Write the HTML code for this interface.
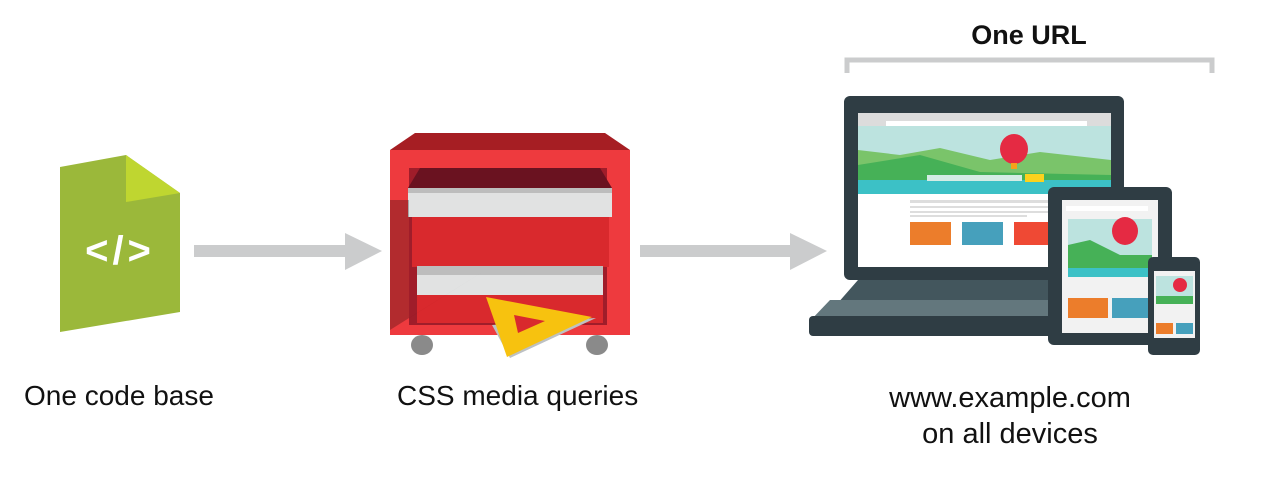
<!DOCTYPE html>
<html><head><style>
body{margin:0;background:#fff;width:1263px;height:480px;overflow:hidden;position:relative;font-family:"Liberation Sans",sans-serif;}
.t{position:absolute;font-size:28px;color:#111;white-space:nowrap;}
</style></head><body>
<svg width="1263" height="480" style="position:absolute;left:0;top:0">
<polygon points="60,167 126,155 180,193 180,312 60,332" fill="#9bb83a"/>
<polygon points="126,155 180,193 126,202" fill="#bfd630"/>
<text x="120" y="264" font-family="Liberation Sans" font-weight="bold" font-size="40" letter-spacing="4" fill="#fff" text-anchor="middle">&lt;/&gt;</text>
<rect x="194" y="245" width="152" height="12" fill="#cbcccd"/>
<polygon points="345,233 382,251 345,270" fill="#cbcccd"/>
<rect x="640" y="245" width="152" height="12" fill="#cbcccd"/>
<polygon points="790,233 827,251 790,270" fill="#cbcccd"/>
<polygon points="415,133 605,133 630,150 390,150" fill="#a61e23"/>
<rect x="390" y="150" width="240" height="185" fill="#ee3a3e"/>
<rect x="409" y="168" width="198" height="157" fill="#a01d2a"/>
<polygon points="420,168 600,168 612,188 408,188" fill="#6a1220"/>
<rect x="412" y="217" width="197" height="50" fill="#d9292d"/>
<rect x="408" y="188" width="204" height="29" fill="#e1e2e2"/>
<rect x="408" y="188" width="204" height="5" fill="#bdbdbd"/>
<rect x="417" y="295" width="186" height="28" fill="#d9292d"/>
<rect x="417" y="266" width="186" height="29" fill="#e1e2e2"/>
<rect x="417" y="266" width="186" height="9" fill="#bdbdbd"/>
<polygon points="390,200 409,200 409,318 492,266 390,330" fill="#000" opacity="0.25"/>
<ellipse cx="422" cy="345" rx="11" ry="10" fill="#8a8a8a"/>
<ellipse cx="597" cy="345" rx="11" ry="10" fill="#8a8a8a"/>
<polygon points="492,325 596,318 510,358" fill="#bdc1c3"/>
<polygon points="486,297 592,317 507,357" fill="#f7c20f"/>
<polygon points="514,315 545,321 518,333" fill="#d9292d"/>
<rect x="844" y="96" width="280" height="184" rx="6" fill="#2f3d44"/>
<rect x="858" y="113" width="253" height="154" fill="#fff"/>
<rect x="858" y="113" width="253" height="13" fill="#dcdcdc"/>
<rect x="886" y="121" width="201" height="5" fill="#fff"/>
<rect x="858" y="126" width="253" height="68" fill="#bce3df"/>
<polygon points="858,150 900,155 940,148 990,160 1040,152 1111,160 1111,185 858,185" fill="#7ac46a"/>
<polygon points="858,165 920,155 980,172 1111,175 1111,194 858,194" fill="#46b157"/>
<rect x="858" y="180" width="253" height="14" fill="#3cc1c6"/>
<rect x="927" y="175" width="95" height="6" fill="#d4ece4"/>
<rect x="1025" y="174" width="19" height="8" fill="#fcd21d"/>
<ellipse cx="1014" cy="149" rx="14" ry="15" fill="#e52a43"/>
<rect x="1011" y="163" width="6" height="6" fill="#f6a11b"/>
<rect x="910" y="200" width="148" height="3" fill="#ddd"/>
<rect x="910" y="206" width="148" height="2" fill="#ddd"/>
<rect x="910" y="211" width="148" height="2" fill="#ddd"/>
<rect x="910" y="215" width="117" height="2" fill="#ddd"/>
<rect x="910" y="222" width="41" height="23" fill="#ec7d2b"/>
<rect x="962" y="222" width="41" height="23" fill="#46a0bc"/>
<rect x="1014" y="222" width="41" height="23" fill="#ef4934"/>
<polygon points="858,280 1124,280 1060,312 830,312" fill="#43565d"/>
<polygon points="830,300 1060,300 1060,335 817,335 809,322" fill="#63777d"/>
<rect x="809" y="316" width="250" height="20" rx="4" fill="#2f3d44"/>
<rect x="1048" y="187" width="124" height="158" rx="6" fill="#2f3d44"/>
<rect x="1062" y="200" width="96" height="133" fill="#f2f2f2"/>
<rect x="1066" y="206" width="82" height="5" fill="#fff"/>
<rect x="1068" y="219" width="84" height="58" fill="#bce3df"/>
<polygon points="1068,245 1090,240 1120,255 1152,255 1152,277 1068,277" fill="#46b157"/>
<rect x="1068" y="268" width="84" height="9" fill="#3cc1c6"/>
<ellipse cx="1125" cy="231" rx="13" ry="14" fill="#e52a43"/>
<rect x="1068" y="298" width="40" height="20" fill="#ec7d2b"/>
<rect x="1112" y="298" width="40" height="20" fill="#46a0bc"/>
<rect x="1148" y="257" width="52" height="98" rx="5" fill="#2f3d44"/>
<rect x="1154" y="271" width="41" height="67" fill="#f2f2f2"/>
<rect x="1156" y="276" width="37" height="28" fill="#bce3df"/>
<rect x="1156" y="296" width="37" height="8" fill="#46b157"/>
<ellipse cx="1180" cy="285" rx="7" ry="7" fill="#e52a43"/>
<rect x="1156" y="323" width="17" height="11" fill="#ec7d2b"/>
<rect x="1176" y="323" width="17" height="11" fill="#46a0bc"/>
<polyline points="847,73 847,60 1212,60 1212,73" fill="none" stroke="#cbcccd" stroke-width="5"/>
</svg>
<div class="t" style="left:24px;top:380px">One code base</div>
<div class="t" style="left:397px;top:380px">CSS media queries</div>
<div class="t" style="left:860px;top:380px;width:300px;text-align:center;line-height:36px;font-size:29px">www.example.com<br>on all devices</div>
<div class="t" style="left:929px;top:20px;width:200px;text-align:center;font-weight:bold;font-size:27px">One URL</div>
</body></html>
